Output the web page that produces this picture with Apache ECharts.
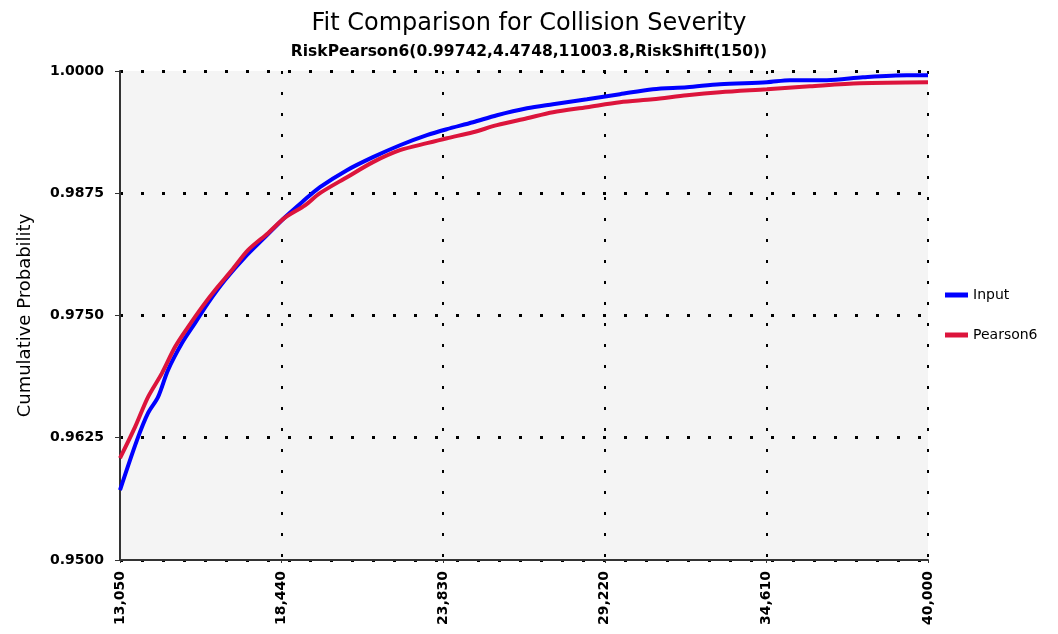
<!DOCTYPE html>
<html>
<head>
<meta charset="utf-8">
<title>Fit Comparison for Collision Severity</title>
<script src="https://cdn.jsdelivr.net/npm/echarts@6/dist/echarts.min.js"></script>
<style>
  html, body { margin: 0; padding: 0; background: #fff; }
  #chart { width: 1058px; height: 634px; }
</style>
</head>
<body>
<div id="chart"></div>
<script>
// axis layout (x axis is offset from its first tick so ticks land on the labels)
const X_START = 13050;
const X_END = 40000;
const X_STEP = 5390;
const Y_MIN = 0.95;
const Y_MAX = 1.0;
const Y_STEP = 0.0125;

// Input (empirical CDF)
const inputX = [13050, 13617, 13984, 14317, 14651, 15118, 15551, 15985, 16552, 17219, 17886, 18553,
  19120, 19720, 20620, 21488, 22388, 23288, 23955, 24823, 25623, 26624, 27491, 28625, 29725,
  30826, 31960, 33060, 34627, 35395, 36628, 37829, 39296, 40000];
const inputY = [0.95715, 0.96226, 0.96502, 0.96666, 0.96942, 0.97218, 0.97422, 0.97627, 0.97862,
  0.98097, 0.98301, 0.98505, 0.98659, 0.98812, 0.98986, 0.99119, 0.99241, 0.99344, 0.99405,
  0.99476, 0.99548, 0.99619, 0.99660, 0.99711, 0.99763, 0.99814, 0.99834, 0.99865, 0.99885,
  0.99906, 0.99906, 0.99936, 0.99957, 0.99957];

// Pearson6 fit
const pearsonX = [13050, 13550, 13984, 14451, 14884, 15318, 15785, 16218, 16785, 17319, 17986, 18553,
  19220, 19720, 20620, 21488, 22388, 23288, 23955, 24823, 25623, 26624, 27491, 28625, 29725,
  30826, 31960, 33060, 34627, 36061, 37729, 40000];
const pearsonY = [0.96042, 0.96359, 0.96666, 0.96911, 0.97177, 0.97381, 0.97586, 0.97759, 0.97964,
  0.98168, 0.98342, 0.98500, 0.98625, 0.98751, 0.98914, 0.99068, 0.99190, 0.99262, 0.99313,
  0.99374, 0.99446, 0.99517, 0.99579, 0.99630, 0.99681, 0.99711, 0.99752, 0.99783, 0.99814,
  0.99844, 0.99875, 0.99885];

const FONT = "DejaVu Sans";

function toPoints(xs, ys) {
  return xs.map((x, i) => [x - X_START, ys[i]]);
}

const chart = echarts.init(document.getElementById("chart"));

chart.setOption({
  animation: false,
  backgroundColor: "#fff",
  title: [
    {
      text: "Fit Comparison for Collision Severity",
      left: "center",
      top: 7,
      textStyle: { fontFamily: FONT, fontSize: 24, fontWeight: "normal", color: "#000" },
    },
    {
      text: "RiskPearson6(0.99742,4.4748,11003.8,RiskShift(150))",
      left: "center",
      top: 39,
      textStyle: { fontFamily: FONT, fontSize: 15.5, fontWeight: "bold", color: "#000" },
    },
  ],
  legend: {
    orient: "vertical",
    left: 940,
    top: 283,
    itemGap: 26,
    itemWidth: 23,
    itemHeight: 5,
    icon: "rect",
    textStyle: { fontFamily: FONT, fontSize: 14, color: "#000" },
    data: ["Input", "Pearson6"],
  },
  grid: {
    left: 120,
    right: 130,
    top: 71,
    bottom: 74,
    show: true,
    backgroundColor: "#f4f4f4",
    borderWidth: 0,
  },
  xAxis: {
    type: "value",
    min: 0,
    max: X_END - X_START,
    interval: X_STEP,
    axisLine: { show: true, onZero: false, lineStyle: { color: "#333", width: 2 } },
    axisTick: { show: true, length: 3, lineStyle: { color: "#333" } },
    axisLabel: {
      rotate: 90,
      margin: 11,
      showMinLabel: true,
      showMaxLabel: true,
      fontFamily: FONT,
      fontSize: 14,
      fontWeight: "bold",
      color: "#000",
      formatter: v => (v + X_START).toLocaleString("en-US"),
    },
    splitLine: { show: true, lineStyle: { color: "#000", width: 2, type: [3, 18] } },
  },
  yAxis: {
    type: "value",
    min: Y_MIN,
    max: Y_MAX,
    interval: Y_STEP,
    name: "Cumulative Probability",
    nameLocation: "middle",
    nameGap: 86,
    nameTextStyle: { fontFamily: FONT, fontSize: 18, color: "#000" },
    axisLine: { show: true, lineStyle: { color: "#333", width: 2 } },
    axisTick: { show: true, length: 5, lineStyle: { color: "#333" } },
    axisLabel: {
      margin: 16,
      fontFamily: FONT,
      fontSize: 14,
      fontWeight: "bold",
      color: "#000",
      formatter: v => v.toFixed(4),
    },
    splitLine: { show: true, lineStyle: { color: "#000", width: 3, type: [3, 18] } },
  },
  series: [
    {
      name: "Input",
      type: "line",
      data: toPoints(inputX, inputY),
      showSymbol: false,
      smooth: 0.3,
      lineStyle: { color: "#0000ff", width: 4 },
      itemStyle: { color: "#0000ff" },
    },
    {
      name: "Pearson6",
      type: "line",
      data: toPoints(pearsonX, pearsonY),
      showSymbol: false,
      smooth: 0.3,
      lineStyle: { color: "#dc143c", width: 4 },
      itemStyle: { color: "#dc143c" },
    },
  ],
});
</script>
</body>
</html>
